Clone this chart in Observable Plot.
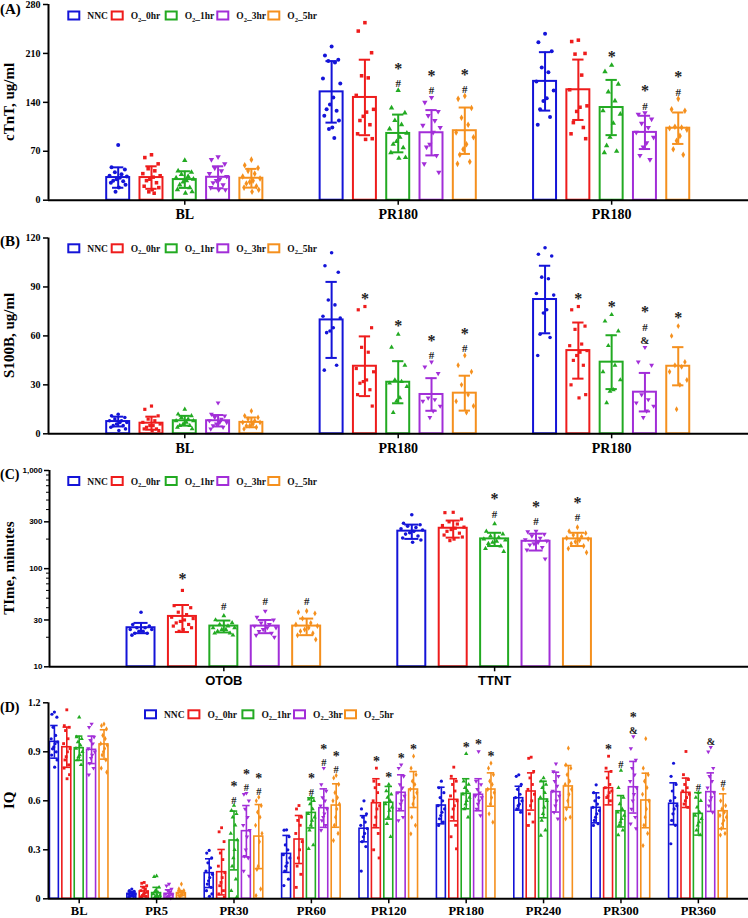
<!DOCTYPE html>
<html><head><meta charset="utf-8">
<script src="https://cdn.jsdelivr.net/npm/d3@7"></script>
<script src="https://cdn.jsdelivr.net/npm/@observablehq/plot@0.6"></script>
<style>
body{margin:0;background:#fff;}
#chart{position:relative;width:748px;height:918px;}
#chart svg{position:absolute;left:0;}
</style></head><body><div id="chart"></div>
<script>
// ---------- groups ----------
const groups = ["NNC","O2_0hr","O2_1hr","O2_3hr","O2_5hr"];
const colors = ["#1414d8","#ee1c1c","#22aa22","#a22ed8","#f5901e"];

// ---------- Panel A: cTnT ----------
const catsA = ["BL","PR180","PR180"];
const meanA = [[32.4,32.4,29.5,32.8,31.4],[155,147,95.5,96.5,99.4],[170,158,132.6,97,103]];
const sdA   = [[14.6,16.1,11.9,15.7,13.4],[44,54,27,32.4,33.2],[41.8,43.2,39.5,23.8,22.5]];
const dotsA = [
 [[79,47,44,40,37,35,34,32,30,28,27,25,22,18,12],
  [65,61,52,45,42,38,35,33,30,28,25,20,18,15,12,10],
  [57,42,40,37,34,32,30,28,26,22,18,15,12,10],
  [62,58,52,46,42,38,34,30,28,25,22,18,15,15],
  [58,50,46,42,38,34,31,28,26,24,20,18,15,12]],
 [[220,207,201,199,197,174,167,147,137,130,128,121,114,104,102,89],
  [254,242,211,178,175,150,130,126,120,114,108,95,88,87],
  [157,132,125,114,108,102,96,90,84,80,75,68,61,60],
  [147,140,127,121,114,107,104,97,80,76,64,52,40],
  [149,145,132,118,108,97,90,80,73,65,55,52]],
 [[238,226,213,190,183,170,157,146,142,130,119,108],
  [229,227,210,209,179,158,135,133,127,111,104,95,88],
  [193,184,166,155,142,128,123,110,90,78,70,68],
  [125,123,116,110,104,97,90,82,76,64,58],
  [145,130,128,105,104,103,101,92,85,73,65]]
];
const sigA = [["","","","",""],["","","*#","*#","*#"],["","","*","*#","*#"]];
const ticksA = [0,70,140,210,280];

// ---------- Panel B: S100B ----------
const catsB = ["BL","PR180","PR180"];
const meanB = [[7.5,6.5,8,8,7],[69.8,41.4,31.6,24.1,24.9],[82.3,51,43.9,25.5,41.4]];
const sdB   = [[3,4,3,3.5,3],[23.3,18.3,12.9,10,10.7],[20.7,17.2,16.5,11.8,11.7]];
const dotsB = [
 [[12,11,10,9,8,8,7,7,6,5,5,4,3,2],
  [17,15,11,9,8,7,6,5,5,4,3,3,2,2],
  [15,12,11,10,9,8,8,7,6,5,5,4,3],
  [19,12,11,10,9,8,7,7,6,5,4,3],
  [14,11,10,9,8,7,7,6,5,5,4,3]],
 [[111,103,99,82,79,72,71,65,63,62,42,39],
  [78,76,65,53,50,40,38,33,32,31,27,24,17],
  [61,53,42,33,32,31,29,22,20,13],
  [44,41,37,22,21,20,17,14,10],
  [48,42,38,30,24,20,17,13]],
 [[114,110,109,96,95,86,85,76,74,61,59,48],
  [78,76,66,64,55,54,51,50,48,45,42,30,24,22],
  [73,69,63,54,42,38,33,27,26,19],
  [53,44,42,24,21,19,17,14,10],
  [66,60,44,42,41,38,33,30,15]]
];
const sigB = [["","","","",""],["","*","*","*#","*#"],["","*","*","*#&","*"]];
const ticksB = [0,30,60,90,120];

// ---------- Panel C: Time ----------
const catsC = ["OTOB","TTNT"];
const meanC = [[25,32.6,26,26,26],[241,258,201,190,201]];
const sdC   = [[3,10,3.6,4,5],[40,51,31,37,31]];
const dotsC = [
 [[36,27,26,25,25,24,24,23,23,22,22,21],
  [60,42,40,36,34,32,31,30,29,28,27,26,25,24,23],
  [33,30,28,27,26,25,25,24,24,23,22,22,21],
  [37,32,30,28,27,26,25,25,24,23,22,21,20],
  [37,36,35,31,28,27,26,25,24,23,22,21,19]],
 [[354,290,280,270,262,255,248,240,232,225,215,205,196,186],
  [375,372,320,300,285,275,265,258,250,240,230,220,210,200,193],
  [286,240,225,215,208,200,195,190,185,180,170,160,149],
  [241,238,225,215,205,198,192,185,180,175,165,155,126],
  [264,240,230,220,212,205,200,195,188,180,170,160,146]]
];
const sigC = [["","*","#","#","#"],["","","*#","*#","*#"]];
const ticksC = [10,30,100,300,1000];
const minorTicksC = [20,40,50,60,70,80,90,200,400,500,600,700,800,900];

// ---------- Panel D: IQ ----------
const catsD = ["BL","PR5","PR30","PR60","PR120","PR180","PR240","PR300","PR360"];
const meanD = [
 [0.961,0.928,0.922,0.912,0.945],[0.03,0.045,0.035,0.03,0.035],[0.157,0.163,0.357,0.414,0.381],
 [0.275,0.363,0.526,0.555,0.571],[0.429,0.585,0.588,0.649,0.669],[0.571,0.606,0.643,0.637,0.669],
 [0.616,0.657,0.608,0.653,0.688],[0.557,0.677,0.536,0.683,0.602],[0.582,0.649,0.52,0.653,0.536]];
const sdD = [
 [0.1,0.123,0.074,0.084,0.09],[0.015,0.03,0.035,0.025,0.015],[0.088,0.139,0.18,0.157,0.196],
 [0.113,0.147,0.092,0.118,0.133],[0.08,0.15,0.1,0.11,0.11],[0.112,0.129,0.092,0.098,0.102],
 [0.073,0.114,0.112,0.122,0.128],[0.092,0.102,0.096,0.158,0.167],[0.128,0.09,0.13,0.118,0.107]];
const dotsD = [
 [[1.143,1.13,1.112,1.05,1.0,0.98,0.96,0.95,0.93,0.918,0.9,0.88,0.85,0.806],
  [1.157,1.06,1.05,1.03,0.98,0.95,0.92,0.9,0.87,0.85,0.82,0.8,0.76,0.735],
  [1.112,0.99,0.98,0.96,0.94,0.92,0.9,0.88,0.87,0.85,0.82],
  [1.071,1.05,0.99,0.97,0.95,0.92,0.9,0.88,0.86,0.83,0.8,0.76],
  [1.07,1.06,1.04,1.0,0.98,0.95,0.94,0.92,0.9,0.88,0.85,0.8,0.775]],
 [[0.06,0.05,0.045,0.04,0.035,0.03,0.03,0.025,0.02,0.02,0.015,0.01],
  [0.1,0.095,0.08,0.07,0.06,0.05,0.04,0.035,0.03,0.02,0.015,0.01],
  [0.14,0.135,0.07,0.05,0.04,0.03,0.02,0.02,0.015,0.01,0.005],
  [0.09,0.08,0.06,0.05,0.04,0.03,0.025,0.02,0.015,0.01,0.005],
  [0.09,0.06,0.05,0.045,0.04,0.035,0.03,0.025,0.02,0.015]],
 [[0.296,0.28,0.25,0.22,0.19,0.17,0.15,0.13,0.11,0.09,0.07,0.05,0.03,0.015],
  [0.435,0.41,0.35,0.28,0.24,0.2,0.16,0.13,0.1,0.08,0.05,0.03,0.01],
  [0.571,0.54,0.52,0.5,0.45,0.4,0.36,0.3,0.25,0.2,0.12,0.05,0.01],
  [0.647,0.64,0.6,0.55,0.5,0.45,0.42,0.38,0.3,0.26,0.25,0.17,0.14],
  [0.622,0.6,0.57,0.53,0.5,0.45,0.4,0.35,0.2,0.18,0.06,0.02]],
 [[0.422,0.42,0.38,0.33,0.3,0.27,0.25,0.22,0.2,0.17,0.12,0.081],
  [0.571,0.55,0.5,0.48,0.45,0.4,0.35,0.3,0.25,0.2,0.15,0.07],
  [0.62,0.61,0.6,0.58,0.55,0.52,0.5,0.48,0.45,0.42,0.33,0.306],
  [0.8,0.7,0.66,0.62,0.6,0.57,0.55,0.52,0.5,0.48,0.45,0.42],
  [0.755,0.74,0.7,0.65,0.62,0.6,0.58,0.55,0.5,0.45,0.4,0.357]],
 [[0.6,0.55,0.52,0.5,0.47,0.45,0.43,0.4,0.38,0.35,0.32,0.17],
  [0.8,0.72,0.7,0.68,0.65,0.6,0.57,0.55,0.5,0.45,0.4,0.3,0.25],
  [0.7,0.66,0.64,0.62,0.6,0.58,0.56,0.54,0.5,0.46,0.38],
  [0.82,0.8,0.75,0.7,0.68,0.65,0.63,0.6,0.58,0.55,0.5,0.48],
  [0.873,0.8,0.76,0.72,0.7,0.67,0.65,0.62,0.58,0.5,0.45,0.398]],
 [[0.72,0.68,0.65,0.62,0.6,0.57,0.55,0.53,0.51,0.49,0.47,0.449],
  [0.806,0.75,0.72,0.7,0.66,0.63,0.6,0.57,0.55,0.5,0.45,0.38,0.306],
  [0.888,0.72,0.7,0.68,0.66,0.64,0.62,0.6,0.58,0.55,0.5],
  [0.902,0.72,0.7,0.67,0.65,0.63,0.62,0.6,0.58,0.55,0.51],
  [0.83,0.8,0.76,0.72,0.7,0.67,0.65,0.62,0.58,0.52,0.469]],
 [[0.759,0.75,0.7,0.67,0.64,0.62,0.6,0.58,0.57,0.55,0.53],
  [0.867,0.86,0.78,0.74,0.7,0.67,0.64,0.6,0.57,0.52,0.47,0.449],
  [0.74,0.72,0.7,0.68,0.65,0.62,0.6,0.56,0.52,0.48,0.42,0.388],
  [0.827,0.78,0.75,0.72,0.69,0.66,0.63,0.6,0.57,0.53,0.49],
  [0.922,0.82,0.8,0.76,0.72,0.7,0.67,0.64,0.6,0.55,0.5,0.49]],
 [[0.698,0.65,0.62,0.6,0.58,0.56,0.54,0.52,0.5,0.48,0.46,0.449],
  [0.873,0.8,0.78,0.74,0.7,0.68,0.66,0.65,0.63,0.62,0.6],
  [0.786,0.68,0.62,0.58,0.55,0.53,0.51,0.49,0.47,0.45,0.42,0.39],
  [0.994,0.92,0.85,0.8,0.76,0.72,0.68,0.64,0.6,0.55,0.5,0.46,0.43],
  [0.98,0.8,0.76,0.72,0.68,0.64,0.6,0.55,0.5,0.45,0.4,0.326]],
 [[0.83,0.75,0.7,0.66,0.62,0.6,0.57,0.55,0.52,0.48,0.45,0.337],
  [0.902,0.76,0.73,0.7,0.68,0.66,0.64,0.62,0.6,0.58,0.56],
  [0.65,0.62,0.6,0.56,0.53,0.51,0.49,0.47,0.45,0.42,0.39],
  [0.928,0.9,0.8,0.75,0.72,0.68,0.65,0.62,0.6,0.57,0.53],
  [0.673,0.6,0.57,0.55,0.53,0.51,0.5,0.48,0.46,0.43,0.4,0.39]]
];
const sigD = [["","","","",""],["","","","",""],["","","*#","*#","*#"],["","","*#","*#","*#"],
  ["","*","*","*","*"],["","","*","*","*"],["","","","",""],["","*","#","*&",""],["","","#","&","#"]];
const ticksD = [0,0.3,0.6,0.9,1.2];

// ---------- drawing ----------
const SERIF = "Liberation Serif, Times New Roman, serif";
const SANS = "Liberation Sans, Arial, sans-serif";
const symbols = ["circle","square","triangle","triangle","diamond"];
const jitter = [0,-0.2,0.2,-0.1,0.1,-0.26,0.26,0.05,-0.05,-0.15,0.15,-0.22,0.22,0.02,-0.08,0.08];
const legendOffsets = [0,43.4,97.4,149,200];
const chart = document.getElementById("chart");

function panel(p) {
  const bars = [], pts = [], sigs = [];
  p.cats.forEach((c, i) => groups.forEach((g, j) => {
    const cx = i * p.step + (j - 2);
    const m = p.means[i][j], s = p.sds[i][j], ds = p.dots[i][j];
    bars.push({cx, m, lo: m - s, hi: m + s, j});
    ds.forEach((v, k) => pts.push({x: cx + jitter[k % jitter.length], y: v, j}));
    const top = Math.max(m + s, ...ds);
    [...p.sig[i][j]].reverse().forEach((ch, level) => sigs.push({x: cx, y: top, ch, level}));
  }));
  const base = p.yDomain[0];
  const col = d => colors[d.j];
  const marks = [
    Plot.rect(bars, {x1: d => d.cx - p.half, x2: d => d.cx + p.half, y1: base, y2: "m", fill: "none", stroke: col, strokeWidth: p.sw}),
    ...groups.map((g, j) => Plot.dot(pts.filter(d => d.j === j), {x: "x", y: "y", symbol: symbols[j], rotate: j === 3 ? 180 : 0, r: p.r, fill: colors[j], stroke: "none"})),
    Plot.ruleX(bars, {x: "cx", y1: "lo", y2: "hi", stroke: col, strokeWidth: p.ew}),
    Plot.ruleY(bars, {y: "hi", x1: d => d.cx - p.cap, x2: d => d.cx + p.cap, stroke: col, strokeWidth: p.ew}),
    Plot.ruleY(bars, {y: "lo", x1: d => d.cx - p.cap, x2: d => d.cx + p.cap, stroke: col, strokeWidth: p.ew}),
    ...[0,1,2].map(level => Plot.text(sigs.filter(d => d.level === level), {
      x: "x", y: "y", text: "ch", lineAnchor: "bottom", fontFamily: SERIF, fontWeight: "bold",
      fontSize: d => d.ch === "*" ? p.starSize : p.hashSize, fill: "#222", dy: -p.sigGap - level * p.sigStep})),
    Plot.ruleY([base], {stroke: "#000", strokeWidth: 2}),
    Plot.ruleX([p.xDomain[0]], {stroke: "#000", strokeWidth: 2}),
    Plot.axisY({ticks: p.yTicks, tickSize: 5, tickPadding: p.tickPad, tickFormat: p.yFormat, fontSize: p.tickSize, fontWeight: "bold", fontFamily: p.tickFont, strokeWidth: 1.5, label: null}),
    Plot.axisX({ticks: p.cats.map((c, i) => i * p.step), tickSize: 5, tickPadding: p.catPad,
      tickFormat: d => p.cats[Math.round(d / p.step)], fontSize: p.catSize, fontWeight: "bold", fontFamily: p.catFont, strokeWidth: 1.5, label: null})
  ];
  if (p.minor) marks.push(Plot.axisY({ticks: p.minor, tickSize: 3, tickFormat: () => "", strokeWidth: 1, label: null}));
  const svg = Plot.plot({
    width: 748, height: p.height, marginLeft: p.ml, marginRight: 0, marginTop: p.mt, marginBottom: p.mb,
    x: {domain: p.xDomain, label: null},
    y: {type: p.yType || "linear", domain: p.yDomain, label: null},
    style: {background: "transparent", fontFamily: SERIF, overflow: "visible"},
    marks
  });
  svg.style.top = p.top + "px";
  chart.appendChild(svg);
  const s = d3.select(svg);
  // panel letter
  s.append("text").attr("x", 0).attr("y", p.letterY).attr("text-anchor", "start").attr("font-family", SERIF).attr("font-weight", "bold")
    .attr("font-size", p.letterSize).attr("fill", "#000").text(p.letter);
  // y label
  const yc = p.mt + (p.height - p.mt - p.mb) / 2;
  s.append("text").attr("transform", `translate(${p.labelX},${yc}) rotate(-90)`).attr("text-anchor", "middle")
    .attr("font-family", SERIF).attr("font-weight", "bold").attr("font-size", 15).attr("fill", "#000").text(p.ylabel);
  // legend
  const lg = s.append("g").attr("text-anchor", "start");
  groups.forEach((name, j) => {
    const x = p.legendX + legendOffsets[j];
    lg.append("rect").attr("x", x).attr("y", p.legendY - 4).attr("width", 11).attr("height", 8)
      .attr("fill", "none").attr("stroke", colors[j]).attr("stroke-width", 2);
    const t = lg.append("text").attr("x", x + 19).attr("y", p.legendY + 3.5).attr("font-family", SERIF)
      .attr("font-weight", "bold").attr("font-size", 9.5).attr("fill", "#111");
    if (j === 0) t.text(name);
    else {
      t.append("tspan").text("O");
      t.append("tspan").attr("font-size", 6.5).attr("dy", 2.5).text("2");
      t.append("tspan").attr("dy", -2.5).text("_" + name.split("_")[1]);
    }
  });
}

panel({cats: catsA, means: meanA, sds: sdA, dots: dotsA, sig: sigA, yDomain: [0, 280], yTicks: ticksA,
  yFormat: d => String(d), tickFont: SERIF, tickSize: 10, tickPad: 3, catFont: SERIF, catSize: 14, catPad: 4,
  step: 6.41, xDomain: [-4.093, 16.93], ml: 48, top: 0, height: 228, mt: 4, mb: 28.3,
  half: 0.345, cap: 0.17, sw: 2, ew: 2, r: 2, sigGap: 3, sigStep: 13.5, starSize: 16, hashSize: 11,
  letter: "(A)", letterY: 13.5, letterSize: 15, ylabel: "cTnT, ug/ml", labelX: 14, legendX: 68.3, legendY: 15.5});

panel({cats: catsB, means: meanB, sds: sdB, dots: dotsB, sig: sigB, yDomain: [0, 120], yTicks: ticksB,
  yFormat: d => String(d), tickFont: SERIF, tickSize: 10, tickPad: 3, catFont: SERIF, catSize: 14, catPad: 4,
  step: 6.41, xDomain: [-4.093, 16.93], ml: 48, top: 228, height: 230, mt: 9.5, mb: 24.7,
  half: 0.345, cap: 0.17, sw: 2, ew: 2, r: 1.8, sigGap: 3, sigStep: 13.5, starSize: 16, hashSize: 11,
  letter: "(B)", letterY: 18, letterSize: 15, ylabel: "S100B, ug/ml", labelX: 14, legendX: 68.3, legendY: 20.3});

panel({cats: catsC, means: meanC, sds: sdC, dots: dotsC, sig: sigC, yType: "log", yDomain: [10, 1000], yTicks: ticksC,
  minor: minorTicksC, yFormat: d3.format(","), tickFont: SANS, tickSize: 8, tickPad: 2, catFont: SANS, catSize: 13, catPad: 4,
  step: 6.539, xDomain: [-4.21, 12.67], ml: 49, top: 458, height: 232, mt: 12, mb: 23.7,
  half: 0.338, cap: 0.17, sw: 2, ew: 2, r: 1.8, sigGap: 6, sigStep: 13.5, starSize: 16, hashSize: 11,
  letter: "(C)", letterY: 21, letterSize: 14, ylabel: "TIme, minutes", labelX: 14, legendX: 68.3, legendY: 23});

panel({cats: catsD, means: meanD, sds: sdD, dots: dotsD, sig: sigD, yDomain: [0, 1.2], yTicks: ticksD,
  yFormat: d => d === 0 ? "0" : d.toFixed(1), tickFont: SERIF, tickSize: 10, tickPad: 3, catFont: SERIF, catSize: 12.5, catPad: 2,
  step: 6.242, xDomain: [-2.476, 53.98], ml: 48, top: 690, height: 228, mt: 12.3, mb: 19.7,
  half: 0.36, cap: 0.3, sw: 1.6, ew: 1.6, r: 1.6, sigGap: 2, sigStep: 12.5, starSize: 14, hashSize: 10.5,
  letter: "(D)", letterY: 22, letterSize: 14, ylabel: "IQ", labelX: 14, legendX: 145, legendY: 24.3});
</script></body></html>
